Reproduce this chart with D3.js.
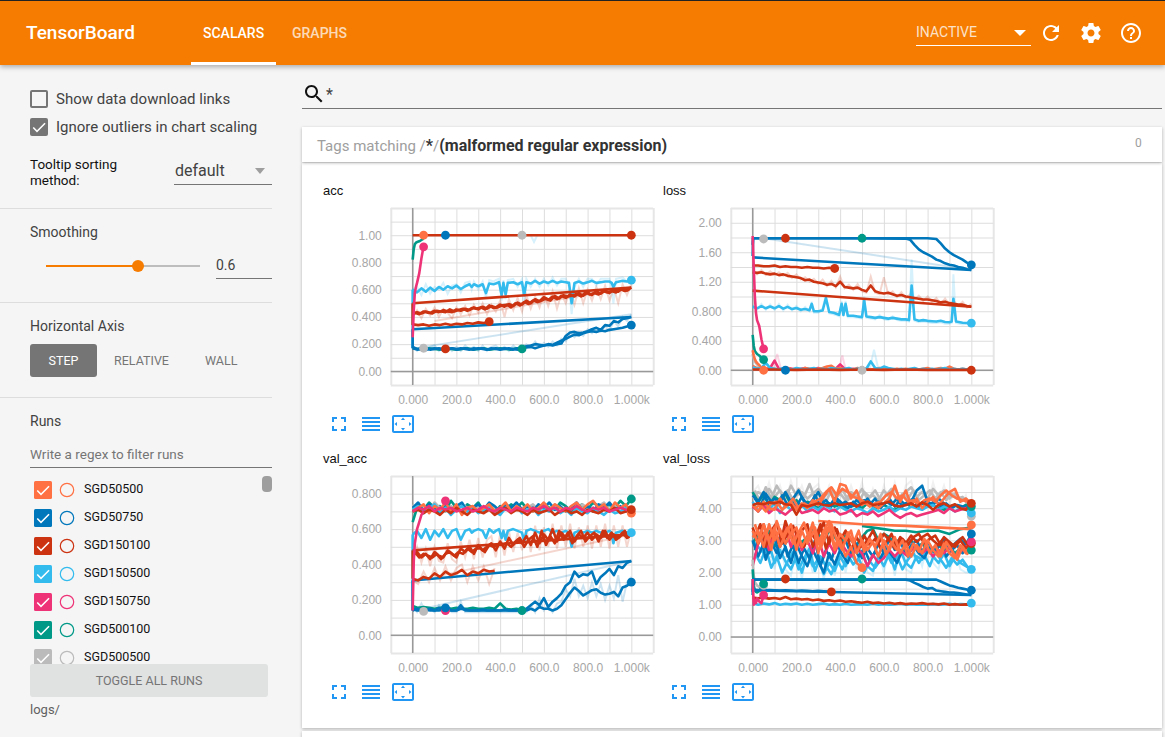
<!DOCTYPE html>
<html lang="en">
<head>
<meta charset="utf-8">
<title>TensorBoard</title>
<script src="https://cdn.jsdelivr.net/npm/d3@7"></script>
<style type="text/css">
html,body{margin:0;padding:0;width:1165px;height:737px;overflow:hidden;background:#f5f5f5;font-family:Roboto,sans-serif;color:#424242}
.a{position:absolute;white-space:nowrap}
.line{position:absolute;height:1px}
#header{position:absolute;left:0;top:0;width:1165px;height:65px;background:#f57c00;border-top:1px solid #222;box-sizing:border-box;box-shadow:0 2px 5px rgba(0,0,0,.3);z-index:3}
.hicon{position:absolute;top:20px;width:24px;height:24px;fill:#fff}
.blue{position:absolute;width:24px;height:24px;fill:#2196f3}
.card{position:absolute;left:302px;width:860px;background:#fff;box-shadow:0 1px 3px rgba(0,0,0,.28)}
.title{position:absolute;font:13px "Liberation Sans",sans-serif;color:#111}
.tick text{font:12px "Liberation Sans",sans-serif;fill:#a6a6a6}
</style>
</head>
<body>
<div id="header">
  <div class="a" style="left:26px;top:20px;font-size:19px;font-weight:500;color:#fff">TensorBoard</div>
  <div class="a" style="left:203px;top:24px;font-size:14px;font-weight:500;color:#fff">SCALARS</div>
  <div class="a" style="left:191px;top:61px;width:85px;height:3px;background:#fff"></div>
  <div class="a" style="left:292px;top:24px;font-size:14px;font-weight:500;color:#fff;opacity:.72">GRAPHS</div>
  <div class="a" style="left:916px;top:23px;font-size:14px;color:#fff;opacity:.78">INACTIVE</div>
  <div class="a" style="left:916px;top:44px;width:115px;height:1px;background:#fff"></div>
  <svg class="a" style="left:1013px;top:28px" width="13" height="8"><path d="M1 1h12l-6 6z" fill="#fff"/></svg>
  <svg class="hicon" style="left:1039px" viewBox="0 0 24 24"><path d="M17.65 6.35C16.2 4.9 14.21 4 12 4c-4.42 0-7.99 3.58-7.99 8s3.57 8 7.99 8c3.73 0 6.84-2.55 7.73-6h-2.08c-.82 2.33-3.04 4-5.65 4-3.31 0-6-2.69-6-6s2.69-6 6-6c1.66 0 3.14.69 4.22 1.78L13 11h7V4l-2.35 2.35z"/></svg>
  <svg class="hicon" style="left:1079px" viewBox="0 0 24 24"><path d="M19.43 12.98c.04-.32.07-.64.07-.98s-.03-.66-.07-.98l2.11-1.65c.19-.15.24-.42.12-.64l-2-3.46c-.12-.22-.39-.3-.61-.22l-2.49 1c-.52-.4-1.08-.73-1.69-.98l-.38-2.65C14.46 2.18 14.25 2 14 2h-4c-.25 0-.46.18-.49.42l-.38 2.65c-.61.25-1.17.59-1.69.98l-2.49-1c-.23-.09-.49 0-.61.22l-2 3.46c-.13.22-.07.49.12.64l2.11 1.65c-.04.32-.07.65-.07.98s.03.66.07.98l-2.11 1.65c-.19.15-.24.42-.12.64l2 3.46c.12.22.39.3.61.22l2.49-1c.52.4 1.08.73 1.69.98l.38 2.65c.03.24.24.42.49.42h4c.25 0 .46-.18.49-.42l.38-2.65c.61-.25 1.17-.59 1.69-.98l2.49 1c.23.09.49 0 .61-.22l2-3.46c.12-.22.07-.49-.12-.64l-2.11-1.65zM12 15.5c-1.93 0-3.5-1.57-3.5-3.5s1.57-3.5 3.5-3.5 3.5 1.57 3.5 3.5-1.57 3.5-3.5 3.5z"/></svg>
  <svg class="hicon" style="left:1119px" viewBox="0 0 24 24"><path d="M11 18h2v-2h-2v2zm1-16C6.48 2 2 6.48 2 12s4.48 10 10 10 10-4.48 10-10S17.52 2 12 2zm0 18c-4.41 0-8-3.59-8-8s3.59-8 8-8 8 3.59 8 8-3.59 8-8 8zm0-14c-2.21 0-4 1.79-4 4h2c0-1.1.9-2 2-2s2 .9 2 2c0 2-3 1.75-3 5h2c0-2.25 3-2.5 3-5 0-2.21-1.79-4-4-4z"/></svg>
</div>

<!-- sidebar -->
<div class="a" style="left:30px;top:90px;width:18px;height:18px;border:2px solid #757575;border-radius:2px;box-sizing:border-box"></div>
<div class="a" style="left:56px;top:90px;font-size:15px">Show data download links</div>
<svg class="a" style="left:30px;top:118px" width="18" height="18" viewBox="0 0 18 18"><rect width="18" height="18" rx="2" fill="#757575"/><path d="M7 12.2L3.8 9l-1.1 1.1L7 14.4l8.6-8.6L14.5 4.700z" fill="#fff"/></svg>
<div class="a" style="left:56px;top:118px;font-size:15px">Ignore outliers in chart scaling</div>
<div class="a" style="left:30px;top:156px;font-size:13.5px;line-height:16px;color:#111">Tooltip sorting<br>method:</div>
<div class="a" style="left:175px;top:161px;font-size:16px">default</div>
<svg class="a" style="left:254px;top:168px" width="13" height="7"><path d="M1 0h10l-5 6z" fill="#9e9e9e"/></svg>
<div class="line" style="left:174px;top:184px;width:98px;background:#757575"></div>
<div class="line" style="left:0;top:208px;width:272px;background:#ddd"></div>
<div class="a" style="left:30px;top:224px;font-size:14px">Smoothing</div>
<div class="a" style="left:46px;top:265px;width:154px;height:2px;background:#bdbdbd"></div>
<div class="a" style="left:46px;top:265px;width:92px;height:2px;background:#f57c00"></div>
<div class="a" style="left:132px;top:260px;width:12px;height:12px;border-radius:6px;background:#f57c00"></div>
<div class="a" style="left:216px;top:257px;font-size:14px">0.6</div>
<div class="line" style="left:216px;top:278px;width:56px;background:#757575"></div>
<div class="line" style="left:0;top:302px;width:272px;background:#ddd"></div>
<div class="a" style="left:30px;top:318px;font-size:14px">Horizontal Axis</div>
<div class="a" style="left:30px;top:344px;width:67px;height:33px;background:#757575;border-radius:3px;color:#fff;font-size:12.5px;line-height:33px;text-align:center">STEP</div>
<div class="a" style="left:114px;top:353px;font-size:12.5px;color:#757575">RELATIVE</div>
<div class="a" style="left:205px;top:353px;font-size:12.5px;color:#757575">WALL</div>
<div class="line" style="left:0;top:397px;width:272px;background:#ddd"></div>
<div class="a" style="left:30px;top:413px;font-size:14px">Runs</div>
<div class="a" style="left:30px;top:446px;font-size:13.5px;color:#757575">Write a regex to filter runs</div>
<div class="line" style="left:30px;top:467px;width:242px;background:#757575"></div>
<div id="runs" class="a" style="left:0;top:472px;width:260px;height:192px;overflow:hidden"></div>
<div class="a" style="left:262px;top:476px;width:10px;height:16px;border-radius:4px;background:#9e9e9e"></div>
<div class="a" style="left:30px;top:664px;width:238px;height:33px;background:#e0e1e1;border-radius:3px;color:#757575;font-size:12.5px;line-height:33px;text-align:center">TOGGLE ALL RUNS</div>
<div class="a" style="left:30px;top:702px;font-size:13px;color:#616161">logs/</div>

<!-- search and tag card -->
<svg class="a" style="left:302px;top:82px;fill:#111" width="24" height="24" viewBox="0 0 24 24"><path d="M15.500 14h-.79l-.28-.27C15.410 12.590 16 11.110 16 9.500 16 5.910 13.090 3 9.500 3S3 5.910 3 9.500 5.910 16 9.500 16c1.610 0 3.090-.59 4.230-1.570l.27.28v.79l5 4.990L20.490 19l-4.990-5zm-6 0C7.010 14 5 11.990 5 9.500S7.010 5 9.500 5 14 7.010 14 9.500 11.990 14 9.500 14z"/></svg>
<div class="a" style="left:326px;top:85px;font-size:16px">*</div>
<div class="line" style="left:302px;top:108px;width:860px;background:#757575"></div>
<div class="card" style="top:127px;height:35px;z-index:1"></div>
<div class="card" style="top:163px;height:565px"></div>
<div class="card" style="top:731px;height:20px"></div>
<div class="a" style="left:317px;top:136px;font-size:15px;color:#9e9e9e;z-index:2">Tags matching /<b style="color:#333;font-weight:700;font-size:16px">*</b>/<b style="color:#333;font-weight:700;font-size:16px">(malformed regular expression)</b></div>
<div class="a" style="left:1135px;top:136px;font-size:12px;color:#9e9e9e;z-index:2">0</div>

<script type="text/javascript">
var runs = ["SGD50500","SGD50750","SGD150100","SGD150500","SGD150750","SGD500100","SGD500500"]
var runColors = ["#ff7043","#0077bb","#cc3311","#33bbee","#ee3377","#009988","#bbbbbb"]
var color = d3.scaleOrdinal(runs, runColors)

var xTicks = [0,200,400,600,800,1000]
var xTickLabels = ["0.000","200.0","400.0","600.0","800.0","1.000k"]
var xGrid = [-100,0,100,200,300,400,500,600,700,800,900,1000,1100]

var steps20 = [0,20,40,60,80,100,120,140,160,180,200,220,240,260,280,300,320,340,360,380,400,420,440,460,480,500,520,540,560,580,600,620,640,660,680,700,720,740,760,780,800,820,840,860,880,900,920,940,960,980,1000]
var steps20b = [10,30,50,70,90,110,130,150,170,190,210,230,250,270,290,310,330,350,370,390,410,430,450,470,490,510,530,550,570,590,610,630,650,670,690,710,730,750,770,790,810,830,850,870,890,910,930,950,970,990]
var steps25 = [0,25,50,75,100,125,150,175,200,225,250,275,300,325,350,375,400,425,450,475,500,525,550,575,600,625,650,675,700,725,750,775,800,825,850,875,900,925,950,975,1000]
var steps25b = [10,35,60,85,110,135,160,185,210,235,260,285,310,335,360,385,410,435,460,485,510,535,560,585,610,635,660,685,710,735,760,785,810,835,860,885,910,935,960,985]
var stepsCyan = [0,20,40,60,80,100,120,140,160,180,200,220,240,260,270,280,300,320,335,350,370,380,395,407,415,425,435,460,480,500,510,520,540,560,580,600,620,640,660,680,700,715,727,740,760,780,800,820,840,860,880,900,910,918,930,960,980,1000]
var stepsFall = [0,2,100,300,500,700,720,740,760,780,800,820,840,860,880,900,920,940,960,980,1000]
var stepsLate = [0,2,200,500,800,840,860,880,900,920,940,960,980,1000]
var stepsStart = [0,5,10,15,20,30,40,50]
var stepsEnds = [0,1000]
var steps100 = [0,100,200,300,400,500,600,700,800,900,1000]

// acc
var accCyan = [.60,.58,.61,.585,.615,.59,.62,.60,.625,.61,.63,.605,.625,.64,.62,.64,.625,.64,.575,.645,.64,.645,.655,.56,.65,.565,.65,.655,.64,.655,.56,.655,.645,.665,.645,.66,.65,.665,.65,.66,.655,.65,.50,.65,.66,.645,.655,.665,.65,.655,.66,.66,.65,.62,.655,.665,.66,.67]
var accRed = [.42,.435,.425,.44,.43,.445,.435,.45,.44,.435,.455,.445,.46,.45,.47,.455,.475,.46,.48,.47,.49,.475,.495,.48,.505,.49,.52,.50,.53,.515,.545,.525,.55,.53,.555,.54,.565,.55,.575,.555,.58,.56,.59,.57,.595,.575,.60,.585,.61,.595,.615]
var accRed2 = [.43,.42,.44,.43,.425,.445,.44,.435,.455,.44,.45,.46,.445,.465,.46,.47,.455,.485,.465,.47,.485,.49,.47,.50,.485,.51,.495,.52,.51,.52,.535,.52,.555,.535,.56,.55,.555,.57,.55,.58,.565,.575,.565,.59,.58,.59,.58,.605,.59,.60]
var accRedShort = [.345,.34,.345,.335,.345,.34,.35,.34,.35,.345,.355,.35,.36,.355,.365]
var accBlueA = [.18,.165,.17,.16,.165,.17,.165,.16,.165,.17,.165,.17,.165,.16,.17,.165,.17,.16,.165,.17,.165,.17,.165,.16,.17,.165,.185,.19,.2,.195,.19,.2,.195,.21,.225,.24,.255,.27,.265,.28,.29,.295,.29,.30,.295,.305,.31,.315,.32,.33,.34]
var accBlueB = [.17,.16,.165,.17,.16,.165,.17,.165,.16,.17,.16,.165,.17,.165,.16,.17,.165,.16,.17,.165,.16,.165,.17,.165,.16,.17,.175,.18,.17,.18,.19,.195,.19,.2,.205,.26,.285,.29,.28,.285,.295,.31,.32,.305,.34,.335,.37,.36,.385,.39,.40]
var accTeal = [.17,.165,.16,.17,.165,.16,.17,.165,.16,.165,.17,.16,.165,.17,.16,.165,.17,.165,.16,.17,.165]
var accTop = [1,1,1,1,1,1,1,1,1,1,1]
var accPink = [.25,.45,.58,.62,.65,.72,.83,.92]
var accTealTop = [.82,.90,.935,.945,.95,.955,.965,.975]
var accRedBack = [.50,.615]
var accBlueBack = [.31,.40]
var accBlueStart = [.17,.31]
var accRedStart = [.34,.50]
var accCyanStart = [.17,.60]

var accRawRed = [.40,.45,.39,.46,.41,.47,.40,.46,.43,.39,.47,.42,.48,.41,.49,.43,.50,.42,.49,.44,.52,.40,.53,.45,.54,.44,.56,.46,.55,.47,.58,.48,.59,.46,.57,.50,.60,.49,.61,.50,.60,.52,.62,.53,.63,.52,.61,.50,.64,.56,.64]
var accRawBlue = [.19,.15,.19,.15,.18,.19,.15,.18,.19,.15,.18,.15,.19,.16,.18,.15,.19,.15,.18,.19,.16,.18,.15,.19,.16,.18,.20,.17,.22,.18,.21,.18,.22,.19,.24,.22,.28,.25,.29,.26,.31,.28,.32,.29,.33,.30,.37,.33,.40,.37,.42]
var accRawCyan = [.60,.62,.56,.64,.57,.62,.60,.65,.57,.63,.64,.58,.65,.66,.60,.66,.60,.66,.54,.67,.66,.67,.68,.52,.67,.53,.67,.68,.62,.68,.50,.68,.62,.68,.62,.68,.63,.69,.63,.68,.68,.62,.42,.62,.68,.62,.68,.68,.63,.68,.68,.68,.62,.50,.68,.69,.66,.68]
var accRawBack = [.18,.42]
var accRawRedBack = [.37,.62]
var accRawTop = [1,1,.95,1,1]
var stepsTopDip = [0,540,555,570,1000]

// loss
var lossCyan = [.86,.84,.87,.84,.865,.84,.87,.835,.86,.83,.845,.82,.83,.815,.90,.80,.80,.81,.98,.79,.78,.77,.75,.90,.75,.90,.74,.74,.73,.72,.95,.73,.72,.71,.72,.71,.70,.71,.70,.69,.69,.68,1.15,.69,.67,.68,.67,.665,.66,.67,.655,.65,.66,.97,.66,.645,.64,.64]
var lossRawCyan = [.88,.82,.90,.82,.89,.82,.90,.81,.89,.81,.87,.80,.86,.80,.93,.78,.78,.84,1.02,.77,.76,.75,.73,.94,.73,.94,.72,.72,.71,.70,1.0,.71,.70,.69,.75,.69,.68,.73,.68,.67,.67,.66,1.5,.67,.65,.66,.65,.64,.64,.65,.63,.63,.64,1.3,.64,.62,.63,.63]
var lossRed = [1.33,1.32,1.33,1.31,1.30,1.31,1.29,1.30,1.28,1.27,1.26,1.25,1.22,1.23,1.20,1.19,1.18,1.16,1.17,1.14,1.20,1.13,1.12,1.11,1.12,1.09,1.07,1.15,1.07,1.05,1.04,1.05,1.03,1.01,1.02,1.00,.99,.98,.97,.96,.96,.95,.94,.92,.93,.91,.90,.89,.89,.87,.86]
var lossRawRed = [1.36,1.30,1.36,1.29,1.34,1.29,1.33,1.28,1.32,1.25,1.30,1.23,1.26,1.20,1.24,1.17,1.23,1.14,1.21,1.12,1.27,1.11,1.16,1.09,1.17,1.07,1.05,1.27,1.05,1.03,1.26,1.03,1.07,.99,1.06,.98,1.03,.96,1.01,.94,1.00,.93,.98,.90,.97,.89,.94,.87,.93,.85,.90]
var lossRedShort = [1.42,1.42,1.41,1.41,1.42,1.40,1.41,1.40,1.40,1.39,1.40,1.39,1.39,1.38,1.39,1.38]
var lossBlueA = [1.55,1.79,1.79,1.79,1.79,1.785,1.77,1.70,1.64,1.60,1.57,1.54,1.50,1.48,1.45,1.43,1.42,1.40,1.39,1.37,1.36]
var lossBlueB = [1.70,1.79,1.79,1.79,1.79,1.78,1.72,1.65,1.60,1.56,1.53,1.50,1.46,1.43]
var lossBlueBack = [1.53,1.36]
var lossRedBack = [1.08,.86]
var lossRawBack = [1.79,1.36]
var lossPink = [1.82,1.40,1.00,.78,.68,.60,.42,.29]
var lossTeal = [.48,.33,.26,.24,.22,.20,.17,.145]
var lossOrange = [.27,.20,.15,.12,.10,.07,.03,0]
var lossGrey = [.22,.16,.12,.10,.08,.05,.02,0]
var lossLowCyan = [.04,.02,.03,.10,.03,.02,.01,.03,.02,.01,.03,.02,.01,.02,.03,.01,.02,.01,.03,.02,.01,.02,.03,.01,.02,.03,.02,.12,.03,.02,.05,.03,.02,.01,.02,.01,.02,.03,.01,.02,.01,.02,.01,.02,.03,.01,.02,.01,.02,.01,.01]
var lossLowPink = [.05,.02,.01,.02,.03,.13,.02,.01,.03,.02,.01,.02,.03,.01,.02,.03,.01,.02,.01,.02,.08,.02,.01,.02,.01,.02,.01]
var lossLowOrange = [.06,.03,.02,.01,.03,.02,.01,.02,.03,.01,.02,.01,.03,.02,.01,.02,.03,.05,.06,.02,.03,.01,.02,.01,.03,.01,.02,.01,.02,.03,.01,.02,.01,.02,.01,.02,.01,.02,.01,.02,.03,.01,.02,.03,.02,.05,.02,.01,.02,.01,.01]
var lossFlat = [.01,.01,.005,.01,.005,.01,.005,.01,.005,.005,.005]
var lossRawSpike = [.01,.28,.01]
var stepsSpike550 = [535,555,575]
var lossRawPink = [.01,.22,.01,.01,.20,.01]
var stepsPinkSpikes = [95,112,130,395,410,425]

// val_acc
var vaTeal = [.64,.74,.71,.75,.72,.73,.70,.76,.72,.70,.74,.72,.75,.70,.72,.69,.73,.71,.74,.72,.75,.71,.73,.70,.74,.72,.71,.75,.73,.70,.72,.74,.71,.75,.73,.71,.74,.72,.76,.73,.77]
var vaOrange = [.70,.72,.74,.69,.73,.71,.75,.70,.74,.68,.72,.73,.70,.72,.74,.70,.72,.75,.70,.73,.71,.74,.70,.72,.75,.71,.74,.72,.70,.73,.75,.71,.74,.76,.72,.74,.70,.75,.72,.74,.69]
var vaBlue = [.72,.75,.70,.74,.72,.69,.74,.71,.73,.75,.70,.72,.74,.71,.75,.73,.70,.74,.72,.75,.71,.73,.70,.74,.72,.75,.71,.73,.70,.72,.75,.71,.73,.70,.74,.72,.75,.71,.73,.70,.72]
var vaCyan = [.71,.73,.69,.72,.74,.70,.72,.68,.71,.73,.70,.72,.69,.71,.73,.70,.68,.72,.70,.73,.69,.71,.72,.68,.71,.70,.72,.69,.71,.68,.72,.70,.69,.72,.70,.68,.71,.69,.70,.72,.70]
var vaGrey = [.74,.71,.73,.70,.75,.72,.70,.73,.71,.74,.72,.70,.73,.71,.74,.72,.70,.73,.71,.74,.70,.72,.74,.71,.73,.70,.74,.72,.70,.73,.71,.74,.72,.70,.73,.75,.71,.73,.70,.72,.71]
var vaPinkLong = [.70,.72,.71,.73,.70,.72,.71,.72,.70,.71,.72,.70,.71,.73,.71,.70,.72,.71,.70,.72,.71,.70,.72,.71,.73,.71,.72,.70,.72,.71,.73,.71,.70,.72,.71,.72,.70,.71,.72,.71,.70]
var vaRedTop = [.70,.71,.69,.71,.70,.68,.71,.69,.72,.70,.68,.71,.70,.69,.71,.68,.70,.72,.69,.71,.70,.68,.71,.69,.70,.71,.68,.70,.71,.69,.70,.68,.71,.70,.69,.71,.70,.72,.69,.70,.71]
var vaPinkStart = [.14,.42,.52,.56,.60,.64,.68,.70]
var vaCyanMid = [.57,.59,.55,.60,.54,.59,.56,.60,.55,.59,.60,.54,.59,.60,.58,.59,.60,.59,.55,.60,.58,.59,.60,.55,.59,.54,.59,.60,.59,.58,.53,.59,.60,.59,.58,.59,.60,.58,.59,.58,.59,.58,.50,.58,.59,.58,.59,.58,.59,.58,.58,.59,.58,.52,.58,.59,.58,.58]
var vaRed = [.45,.47,.44,.46,.43,.47,.45,.44,.48,.46,.44,.49,.47,.50,.46,.51,.48,.50,.52,.48,.53,.49,.55,.51,.54,.52,.56,.51,.58,.52,.57,.54,.60,.53,.58,.55,.59,.53,.57,.55,.58,.54,.57,.55,.59,.54,.57,.55,.58,.55,.57]
var vaRed2 = [.47,.44,.46,.45,.44,.46,.43,.46,.47,.45,.47,.46,.49,.47,.49,.49,.47,.51,.50,.51,.51,.52,.50,.53,.55,.50,.54,.56,.50,.59,.51,.56,.52,.59,.54,.58,.52,.56,.59,.53,.56,.58,.53,.59,.55,.58,.54,.56,.59,.55]
var vaRawRed = [.43,.50,.41,.49,.39,.50,.42,.41,.52,.43,.41,.53,.44,.54,.43,.55,.44,.54,.56,.44,.57,.45,.59,.47,.58,.48,.60,.47,.62,.48,.61,.50,.63,.49,.62,.50,.63,.49,.61,.50,.62,.49,.62,.50,.63,.49,.62,.50,.62,.50,.60]
var vaRedShort = [.32,.31,.33,.32,.35,.33,.36,.34,.35,.37,.34,.36,.35,.37,.36,.365]
var vaRawRedShort = [.31,.29,.36,.30,.38,.31,.39,.31,.38,.40,.30,.39,.31,.39,.29,.38]
var vaBlueA = [.15,.14,.14,.145,.14,.14,.14,.145,.15,.14,.14,.15,.145,.14,.14,.14,.145,.14,.14,.14,.14,.145,.14,.14,.14,.14,.15,.17,.19,.17,.21,.16,.19,.21,.235,.28,.30,.36,.33,.345,.34,.36,.29,.33,.35,.375,.34,.39,.38,.41,.42]
var vaBlueB = [.14,.15,.14,.14,.15,.14,.155,.14,.14,.14,.14,.17,.14,.14,.14,.14,.14,.14,.14,.14,.14,.14,.14,.14,.14,.14,.14,.15,.14,.16,.15,.15,.14,.15,.17,.205,.24,.27,.25,.225,.24,.255,.26,.24,.23,.235,.245,.22,.27,.28,.30]
var vaRawBlue = [.16,.13,.18,.13,.15,.13,.17,.13,.15,.13,.13,.19,.13,.13,.13,.13,.13,.13,.13,.13,.13,.13,.13,.13,.13,.14,.13,.17,.13,.21,.14,.17,.13,.18,.19,.26,.22,.32,.22,.28,.21,.30,.22,.29,.20,.28,.21,.34,.19,.30,.33]
var vaTealLow = [.165,.155,.16,.155,.15,.155,.16,.15,.155,.15,.15,.155,.15,.15,.155,.15,.18,.15,.145,.15,.14]
var vaRedBack = [.48,.57]
var vaBlueBack = [.31,.42]
var vaRawBack = [.15,.42]
var vaRawRedBack = [.33,.57]
var vaBlueStart = [.14,.31]
var vaRedStart = [.32,.48]
var vaCyanStart = [.14,.57]

// val_loss
var vlGrey = [4.3,4.5,4.4,4.6,4.35,4.55,4.3,4.7,4.4,4.5,4.3,4.45,4.6,4.35,4.5,4.3,4.45,4.25,4.5,4.35,4.6,4.3,4.4,4.25,4.55,4.35,4.6,4.3,4.5,4.65,4.35,4.5,4.3,4.6,4.4,4.55,4.3,4.45,4.25,4.3,3.9]
var vlGreyC = [4.55,4.2,4.65,4.3,4.7,4.4,4.55,4.25,4.6,4.35,4.75,4.3,4.5,4.2,4.55,4.35,4.6,4.25,4.45,4.2,4.5,4.35,4.55,4.25,4.4,4.6,4.2,4.45,4.3,4.55,4.25,4.4,4.55,4.3,4.5,4.25,4.45,4.3,4.35,4.1]
var vlOrangeHigh = [4.1,3.9,4.2,4.0,3.95,4.3,4.05,4.2,3.95,4.15,4.0,4.25,4.1,4.35,4.6,4.2,4.75,4.7,4.3,4.55,4.1,4.2,4.1,4.0,4.15,4.3,4.7,4.2,4.55,4.1,4.3,4.0,4.2,4.35,4.1,4.3,4.5,4.6,4.2,4.3,4.15]
var vlOrangeHigh2 = [4.0,4.1,3.9,4.15,4.2,3.95,4.1,4.3,4.0,4.15,4.05,4.2,4.3,4.5,4.65,4.4,4.6,4.5,4.35,4.3,4.2,4.05,4.15,4.2,4.4,4.5,4.3,4.4,4.2,4.25,4.1,4.25,4.3,4.2,4.4,4.55,4.4,4.3,4.25,4.2]
var vlBlueHigh = [4.4,4.2,4.5,4.1,4.3,4.15,4.5,4.2,4.05,4.35,4.1,4.25,4.5,4.15,4.05,4.3,4.1,4.2,4.05,4.25,4.1,4.3,4.05,4.2,4.1,4.3,4.05,4.25,4.1,4.2,4.55,4.7,4.2,4.1,4.3,4.15,4.0,4.1,4.0,4.05,4.0]
var vlBlueD = [4.3,4.05,4.45,4.2,4.05,4.4,4.1,4.3,4.55,4.2,4.05,4.4,4.1,4.25,4.05,4.3,4.15,4.0,4.2,4.05,4.25,4.1,4.3,4.0,4.2,4.1,4.3,4.05,4.2,4.3,4.05,4.2,4.1,4.25,4.05,4.15,4.0,4.1,4.05,4.0]
var vlTealHigh = [4.5,4.2,4.4,4.1,4.35,4.25,4.45,4.1,4.25,4.05,4.2,4.1,4.0,4.1,4.15,4.05,4.1,4.0,4.05,4.1,4.0,4.15,4.05,4.0,4.1,4.0,3.95,4.05,4.15,4.05,4.1,4.15,4.05,4.1,4.0,3.95,4.05,4.1,4.0,4.1,4.05]
var vlPinkHigh = [4.05,3.9,4.1,3.85,4.0,3.9,3.8,3.95,4.05,3.85,3.9,3.95,3.85,4.0,3.9,3.95,3.8,3.85,3.95,3.75,3.85,3.8,3.9,3.75,3.85,3.95,3.8,3.7,3.8,3.85,3.75,3.8,3.85,3.9,3.95,3.85,4.0,3.9,3.95,4.0,4.05]
var vlCyanHigh = [4.2,3.9,4.1,3.95,4.15,3.85,4.1,3.95,4.0,4.1,3.9,4.05,3.95,4.1,4.0,3.9,4.05,3.95,3.9,4.0,3.95,3.85,4.0,3.9,3.95,4.05,3.9,4.0,3.95,4.05,4.0,3.95,4.05,4.1,3.95,4.05,4.0,3.9,4.0,3.95,3.85]
var vlRedHigh = [4.1,4.15,4.12,4.18,4.15,4.2,4.12,4.1,3.8,4.1,4.05,4.1,4.15,4.1,4.08,4.15,4.1,4.12,4.15,4.05,4.15,4.2,4.1,4.12,4.15,4.2,4.08,4.05,4.1,4.15,4.05,4.18,4.1,3.95,4.1,4.15,4.05,4.12,4.0,3.95,4.15]
var vlCyanMid = [3.0,2.8,2.6,2.9,2.3,2.7,2.35,2.1,2.5,2.0,2.6,2.2,2.4,1.95,2.3,2.05,2.5,2.2,2.6,2.3,2.65,2.2,2.05,2.5,2.2,2.6,2.1,2.7,2.3,2.15,2.5,2.4,2.75,2.5,2.3,2.6,2.2,2.5,2.3,2.2,2.1]
var vlCyanC = [2.6,2.3,2.75,2.15,2.5,2.0,2.35,2.65,2.1,2.45,2.75,2.05,2.5,2.2,1.95,2.4,2.1,2.55,2.25,2.45,2.0,2.35,2.15,2.4,2.65,2.3,2.5,2.1,2.4,2.6,2.3,2.55,2.2,2.65,2.4,2.15,2.45,2.25,2.4,2.15]
var vlBlueMid = [3.0,2.5,2.9,2.6,3.1,2.45,2.8,2.3,2.9,2.5,2.2,2.7,2.35,2.0,2.6,2.25,2.7,3.0,2.55,2.9,2.45,2.75,2.5,2.9,2.6,3.05,2.7,2.95,2.6,2.85,3.0,2.65,2.95,2.7,2.85,3.05,2.75,2.9,3.05,2.85,3.2]
var vlBlueC = [2.7,3.2,2.4,2.95,2.6,3.15,2.5,2.85,2.3,2.75,2.45,3.0,2.2,2.7,2.4,2.9,2.55,2.3,2.8,2.5,2.75,2.35,2.65,2.45,2.8,2.55,2.3,2.7,2.5,2.85,2.6,2.45,2.8,2.6,2.95,2.5,2.7,2.85,2.6,2.9]
var vlPinkMid = [2.2,2.9,3.2,2.7,3.3,2.9,3.4,2.8,3.2,2.7,3.0,2.6,3.1,2.5,2.9,2.6,3.0,2.7,2.5,2.75,2.6,2.2,2.55,2.3,2.45,2.7,2.5,2.7,2.55,2.7,2.8,2.6,2.75,2.5,2.7,2.6,2.8,2.5,2.65,2.8,2.95]
var vlRedMid = [3.4,2.9,3.5,3.0,3.3,2.8,3.6,3.1,2.9,3.3,3.5,2.8,3.2,3.55,2.9,3.4,3.0,3.3,2.7,3.1,2.8,3.0,3.3,2.9,3.2,3.0,2.75,3.1,2.9,3.15,2.95,3.1,3.2,3.0,2.85,3.1,2.95,2.8,3.0,2.75,2.9]
var vlRedC = [3.1,3.5,2.8,3.3,3.55,2.9,3.2,3.45,3.0,2.8,3.3,3.05,3.5,2.75,3.2,3.35,2.85,3.1,2.95,2.7,3.15,2.85,3.05,2.75,2.95,3.2,2.8,3.05,2.85,3.1,3.2,2.9,3.05,3.15,2.85,3.0,2.8,2.95,3.1,2.85]
var vlTealMid = [2.9,3.2,3.0,3.3,2.8,3.1,2.9,3.2,3.0,2.95,3.1,3.35,3.2,3.0,3.3,3.1,2.9,3.15,3.0,2.85,3.1,3.3,3.35,3.0,3.2,3.1,2.9,3.05,2.8,3.0,2.75,2.9,2.7,2.65,2.85,2.7,2.8,2.6,2.75,2.65,2.7]
var vlOrangeShort = [3.3,2.9,3.5,3.0,3.4,2.8,3.2,3.5,2.7,3.3,2.9,3.55,2.6,3.2,3.45,2.7,3.0,2.5,2.8,2.3,2.15]
var vlOrangeLong = [3.1,3.3,2.8,3.5,3.0,3.35,2.9,3.2,3.4,2.8,3.1,3.5,2.9,3.3,3.6,2.8,3.2,3.0,3.3,2.6,3.0,2.7,2.95,2.5,3.0,2.7,3.1,2.6,2.9,2.5,2.85,2.6,3.0,2.7,2.5,2.9,2.6,2.45,2.85,2.6,2.85]
var vlOrangeB = [3.5,3.0,3.3,2.7,3.6,3.1,3.4,2.9,3.25,3.55,3.0,3.4,2.75,3.15,3.5,3.0,2.7,3.25,2.9,3.3,2.65,3.05,2.8,3.2,2.55,2.95,2.7,3.0,2.5,2.9,2.65,3.05,2.6,2.85,2.5,2.95,2.7,2.4,2.8,2.55]
var vlTealFlat = [3.45,3.4,3.35,3.3,3.3,3.25,3.3,3.3,3.2,3.35,3.4]
var stepsTealFlat = [500,550,600,650,700,750,800,850,900,950,1000]
var vlOrangeFlat = [3.6,3.5,3.45,3.35]
var stepsOrangeFlat = [300,500,700,1000]
var vlBlueA = [1.3,1.78,1.78,1.78,1.78,1.775,1.75,1.68,1.62,1.55,1.50,1.52,1.44,1.42,1.40,1.38,1.38,1.36,1.34,1.32,1.30]
var vlBlueB = [1.4,1.78,1.78,1.78,1.78,1.78,1.72,1.66,1.60,1.57,1.53,1.50,1.47,1.45]
var vlBlueBack = [1.45,1.30]
var vlRedShort = [1.47,1.46,1.45,1.46,1.45,1.44,1.45,1.44,1.43,1.44,1.43,1.42,1.43,1.42,1.41]
var vlRedLow = [1.22,1.2,1.22,1.19,1.21,1.18,1.24,1.17,1.19,1.16,1.18,1.14,1.16,1.12,1.14,1.11,1.13,1.09,1.11,1.08,1.06,1.09,1.05,1.07,1.04,1.06,1.03,1.05,1.02,1.04,1.03,1.05,1.02,1.03,1.01,1.04,1.0,1.02,1.0,1.01,1.0]
var vlCyanLow = [1.05,1.0,1.04,1.01,1.05,1.0,1.03,1.01,1.04,1.0,1.03,1.0,1.02,1.04,1.0,1.02,1.0,1.03,1.0,1.01,1.02,1.0,1.03,1.0,1.02,1.0,1.01,1.03,1.0,1.02,1.0,1.01,1.0,1.02,1.0,1.01,1.03,1.0,1.02,1.01,1.04]
var vlTealStart = [2.1,1.6,1.45,1.4,1.38,1.42,1.55,1.65]
var vlGreyStart = [2.4,1.9,1.7,1.65,1.6,1.55,1.6,1.62]
var vlPinkStart = [1.8,1.0,1.15,1.05,1.2,1.1,1.05,1.3]
var vlRawGrey = [4.5,4.7,4.2,4.8,4.2,4.7,4.1,4.85,4.3,4.7,4.15,4.6,4.75,4.2,4.7,4.1,4.6,4.1,4.7,4.2,4.8,4.1,4.6,4.1,4.7,4.2,4.8,4.1,4.7,4.85,4.2,4.7,4.1,4.8,4.2,4.7,4.1,4.6,4.1,4.4,3.7]
var vlRawCyan = [3.1,2.6,2.9,2.7,2.1,2.9,2.1,1.9,2.7,1.8,2.8,2.0,2.6,1.8,2.5,1.9,2.7,2.0,2.8,2.1,2.85,2.0,1.9,2.7,2.0,2.8,1.9,2.9,2.1,2.0,2.7,2.2,2.9,2.3,2.1,2.8,2.0,2.7,2.1,2.0,2.0]

var accYTicks = [0,.2,.4,.6,.8,1]
var accYLabels = ["0.00","0.200","0.400","0.600","0.800","1.00"]
var accYGrid = [-.1,0,.1,.2,.3,.4,.5,.6,.7,.8,.9,1,1.1,1.2]
var lossYTicks = [0,.4,.8,1.2,1.6,2]
var lossYLabels = ["0.00","0.400","0.800","1.20","1.60","2.00"]
var lossYGrid = [-.2,0,.2,.4,.6,.8,1,1.2,1.4,1.6,1.8,2,2.2]
var vaYTicks = [0,.2,.4,.6,.8]
var vaYLabels = ["0.00","0.200","0.400","0.600","0.800"]
var vaYGrid = [-.1,0,.1,.2,.3,.4,.5,.6,.7,.8,.9]
var vlYTicks = [0,1,2,3,4]
var vlYLabels = ["0.00","1.00","2.00","3.00","4.00"]
var vlYGrid = [-.5,0,.5,1,1.5,2,2.5,3,3.5,4,4.5,5]

function L(run,steps,values){ return {run:run,steps:steps,values:values} }

var R = runs
var accRaw = [L(R[1],steps20,accRawBlue),L(R[2],steps20,accRawRed),L(R[3],stepsCyan,accRawCyan),L(R[1],[50,1000],accRawBack),L(R[2],[100,1000],accRawRedBack),L(R[3],stepsTopDip,accRawTop)]
var accLines = [L(R[3],[0,0],accCyanStart),L(R[1],[0,0],accBlueStart),L(R[2],[0,0],accRedStart),
  L(R[3],stepsCyan,accCyan),L(R[5],steps25,accTeal),L(R[1],steps20,accBlueA),L(R[1],steps20,accBlueB),L(R[1],stepsEnds,accBlueBack),
  L(R[5],stepsStart,accTealTop),L(R[2],steps20,accRed),L(R[2],steps20b,accRed2),L(R[2],steps25,accRedShort),L(R[2],stepsEnds,accRedBack),L(R[4],stepsStart,accPink),L(R[2],steps100,accTop)]
var accEnds = [[R[6],50,.17],[R[2],150,.165],[R[5],500,.165],[R[1],1000,.34],[R[3],1000,.67],[R[2],350,.365],[R[4],50,.915],[R[0],50,1],[R[1],150,1],[R[6],500,1],[R[2],1000,1]]

var lossRaw = [L(R[3],stepsCyan,lossRawCyan),L(R[2],steps20,lossRawRed),L(R[1],[50,1000],lossRawBack),L(R[3],stepsSpike550,lossRawSpike),L(R[4],stepsPinkSpikes,lossRawPink)]
var lossLines = [L(R[3],stepsCyan,lossCyan),L(R[5],stepsStart,lossTeal),L(R[6],stepsStart,lossGrey),L(R[0],stepsStart,lossOrange),L(R[4],steps20,lossLowPink),L(R[0],steps20,lossLowOrange),L(R[3],steps20,lossLowCyan),
  L(R[1],stepsFall,lossBlueA),L(R[1],stepsLate,lossBlueB),L(R[1],stepsEnds,lossBlueBack),L(R[2],steps20,lossRed),L(R[2],steps25,lossRedShort),L(R[2],stepsEnds,lossRedBack),L(R[4],stepsStart,lossPink),L(R[2],steps100,lossFlat)]
var lossEnds = [[R[6],50,1.78],[R[2],150,1.79],[R[5],500,1.79],[R[1],1000,1.43],[R[2],375,1.38],[R[3],1000,.64],[R[4],50,.29],[R[5],50,.145],[R[0],50,0],[R[1],150,0],[R[6],500,0],[R[2],1000,0]]

var vaRaw = [L(R[2],steps20,vaRawRed),L(R[2],steps25,vaRawRedShort),L(R[1],steps20,vaRawBlue),L(R[1],[50,1000],vaRawBack),L(R[2],[100,1000],vaRawRedBack)]
var vaLines = [L(R[3],[0,0],vaCyanStart),L(R[1],[0,0],vaBlueStart),L(R[2],[0,0],vaRedStart),
  L(R[5],steps25,vaTeal),L(R[6],steps25,vaGrey),L(R[1],steps25,vaBlue),L(R[3],steps25,vaCyan),L(R[0],steps25,vaOrange),L(R[3],stepsCyan,vaCyanMid),
  L(R[5],steps25,vaTealLow),L(R[1],steps20,vaBlueA),L(R[1],steps20,vaBlueB),L(R[1],stepsEnds,vaBlueBack),L(R[2],steps20,vaRed),L(R[2],steps20b,vaRed2),L(R[2],steps25,vaRedShort),L(R[2],stepsEnds,vaRedBack),L(R[2],steps25,vaRedTop),L(R[4],stepsStart,vaPinkStart),L(R[4],steps25,vaPinkLong)]
var vaEnds = [[R[6],50,.135],[R[4],150,.14],[R[1],150,.155],[R[5],500,.14],[R[4],150,.76],[R[5],1000,.77],[R[0],1000,.69],[R[2],1000,.71],[R[3],1000,.58],[R[1],1000,.30]]

var vlRaw = [L(R[6],steps25,vlRawGrey),L(R[3],steps25,vlRawCyan)]
var vlLines = [L(R[6],steps25,vlGrey),L(R[6],steps25b,vlGreyC),L(R[5],steps25,vlTealHigh),L(R[1],steps25,vlBlueHigh),L(R[1],steps25b,vlBlueD),L(R[3],steps25,vlCyanHigh),L(R[4],steps25,vlPinkHigh),L(R[0],steps25,vlOrangeHigh),L(R[0],steps25b,vlOrangeHigh2),
  L(R[3],steps25,vlCyanMid),L(R[3],steps25b,vlCyanC),L(R[5],steps25,vlTealMid),L(R[1],steps25,vlBlueMid),L(R[1],steps25b,vlBlueC),L(R[4],steps25,vlPinkMid),L(R[5],stepsTealFlat,vlTealFlat),L(R[0],stepsOrangeFlat,vlOrangeFlat),L(R[2],steps25,vlRedMid),L(R[2],steps25b,vlRedC),L(R[0],steps25,vlOrangeShort),L(R[0],steps25,vlOrangeLong),L(R[0],steps25b,vlOrangeB),
  L(R[6],stepsStart,vlGreyStart),L(R[5],stepsStart,vlTealStart),L(R[3],steps25,vlCyanLow),L(R[1],stepsFall,vlBlueA),L(R[1],stepsLate,vlBlueB),L(R[1],stepsEnds,vlBlueBack),L(R[1],steps25,vlRedShort),L(R[2],steps25,vlRedLow),L(R[4],stepsStart,vlPinkStart),L(R[2],steps25,vlRedHigh)]
var vlEnds = [[R[6],50,1.6],[R[5],50,1.65],[R[4],50,1.3],[R[2],150,1.8],[R[5],500,1.8],[R[2],360,1.4],[R[0],500,2.15],[R[1],1000,1.45],[R[3],1000,1.05],[R[3],1000,2.1],[R[5],1000,2.7],[R[2],1000,2.9],[R[4],1000,2.95],[R[1],1000,3.2],[R[0],1000,3.48],[R[6],1000,3.75],[R[3],1000,3.85],[R[5],1000,4.05],[R[2],1000,4.15]]

var xRange = [0,262.4]
var x = d3.scaleLinear().domain([-100,1100]).range(xRange)
var icons = [
  "M7 14H5v5h5v-2H7v-3zm-2-4h2V7h3V5H5v5zm12 7h-3v2h5v-5h-2v3zM14 5v2h3v3h2V5h-5z",
  "M3 15h18v-2H3v2zm0 4h18v-2H3v2zm0-8h18V9H3v2zm0-6v2h18V5H3z",
  "M12.010 5.500L10 8h4l-1.990-2.500zM18 10v4l2.500-1.990L18 10zM6 10l-2.500 2.010L6 14v-4zm8 6h-4l2.010 2.500L14 16zm7-13H3c-1.100 0-2 .9-2 2v14c0 1.100.9 2 2 2h18c1.100 0 2-.9 2-2V5c0-1.100-.9-2-2-2zm0 16.010H3V4.990h18v14.020z"
]

function drawChart(name,left,top,yDomain,yTicks,yLabels,yGrid,raw,lines,ends){
  var plotH = 177
  var margin = {left:70.8,top:8}
  var y = d3.scaleLinear().domain(yDomain).range([plotH,0])

  d3.select("body").append("div").attr("class","title").style("left",(left+3)+"px").style("top",(top-17)+"px").text(name)

  var svg = d3.select("body").append("svg")
    .style("position","absolute").style("left",left+"px").style("top",top+"px")
    .attr("width",340).attr("height",212)
  var g = svg.append("g").attr("transform","translate("+margin.left+","+margin.top+")")

  g.append("g").call(d3.axisBottom(x).tickValues(xGrid).tickSize(plotH).tickFormat(""))
    .call(function(s){ s.select(".domain").remove(); s.selectAll("line").attr("stroke",function(d){return d==-100||d==1100?"#e6e6e6":"#ddd"}).attr("stroke-width",function(d){return d==-100||d==1100?2:1}) })
  g.append("g").call(d3.axisLeft(y).tickValues(yGrid).tickSize(-xRange[1]).tickFormat(""))
    .call(function(s){ s.select(".domain").remove(); s.selectAll("line").attr("stroke",function(d){return d==yDomain[0]||d==yDomain[1]?"#e6e6e6":"#ddd"}).attr("stroke-width",function(d){return d==yDomain[0]||d==yDomain[1]?2:1}) })

  // zero lines
  g.append("line").attr("x1",x(0)).attr("x2",x(0)).attr("y1",0).attr("y2",plotH).attr("stroke","#999").attr("stroke-width",1.5)
  g.append("line").attr("x1",0).attr("x2",xRange[1]).attr("y1",y(0)).attr("y2",y(0)).attr("stroke","#999").attr("stroke-width",1.5)

  g.append("g").call(d3.axisLeft(y).tickValues(yTicks).tickSize(0).tickPadding(9).tickFormat(function(d,i){return yLabels[i]}))
    .call(function(s){ s.select(".domain").remove() })
  g.append("g").attr("transform","translate(0,"+plotH+")").call(d3.axisBottom(x).tickValues(xTicks).tickSize(0).tickPadding(10).tickFormat(function(d,i){return xTickLabels[i]}))
    .call(function(s){ s.select(".domain").remove() })

  var line = d3.line().x(function(d){return x(d[0])}).y(function(d){return y(d[1])})

  g.selectAll(".raw").data(raw).enter().append("path").attr("class","raw")
    .attr("d",function(d){return line(d3.zip(d.steps,d.values))})
    .attr("fill","none").attr("stroke",function(d){return color(d.run)}).attr("stroke-width",2).attr("opacity",.2)
  g.selectAll(".smooth").data(lines).enter().append("path").attr("class","smooth")
    .attr("d",function(d){return line(d3.zip(d.steps,d.values))})
    .attr("fill","none").attr("stroke",function(d){return color(d.run)}).attr("stroke-width",2.6).attr("stroke-linejoin","round")
  g.selectAll("circle").data(ends).enter().append("circle")
    .attr("cx",function(d){return x(d[1])}).attr("cy",function(d){return y(d[2])}).attr("r",4.4)
    .attr("fill",function(d){return color(d[0])})

  icons.forEach(function(p,i){
    d3.select("body").append("svg").attr("class","blue").attr("viewBox","0 0 24 24")
      .style("left",(left+7+i*32)+"px").style("top",(top+212)+"px")
      .append("path").attr("d",p)
  })
}

drawChart("acc",320,200,[-.1,1.2],accYTicks,accYLabels,accYGrid,accRaw,accLines,accEnds)
drawChart("loss",660,200,[-.2,2.2],lossYTicks,lossYLabels,lossYGrid,lossRaw,lossLines,lossEnds)
drawChart("val_acc",320,468,[-.1,.9],vaYTicks,vaYLabels,vaYGrid,vaRaw,vaLines,vaEnds)
drawChart("val_loss",660,468,[-.5,5],vlYTicks,vlYLabels,vlYGrid,vlRaw,vlLines,vlEnds)

// run selector rows
var rows = d3.select("#runs").selectAll("div").data(runs).enter().append("div")
  .style("position","absolute").style("left","0").style("top",function(d,i){return (9+i*28)+"px"})
  .style("height","18px").style("width","260px")
var box = rows.append("svg").style("position","absolute").style("left","34px").style("top","0")
  .attr("width",18).attr("height",18).attr("viewBox","0 0 18 18")
box.append("rect").attr("width",18).attr("height",18).attr("rx",1.5).attr("fill",function(d){return color(d)})
box.append("path").attr("d","M7 12.200L3.800 9l-1.100 1.100L7 14.400l8.600-8.600L14.500 4.700z").attr("fill","#fff")
var ring = rows.append("svg").style("position","absolute").style("left","59px").style("top","1px").attr("width",16).attr("height",16)
ring.append("circle").attr("cx",8).attr("cy",8).attr("r",6.7).attr("fill","none").attr("stroke-width",1.2).attr("stroke",function(d){return color(d)})
rows.append("div").attr("class","a").style("left","84px").style("top","0").style("font-size","12.5px").style("color","#111").text(function(d){return d})
</script>
</body>
</html>
